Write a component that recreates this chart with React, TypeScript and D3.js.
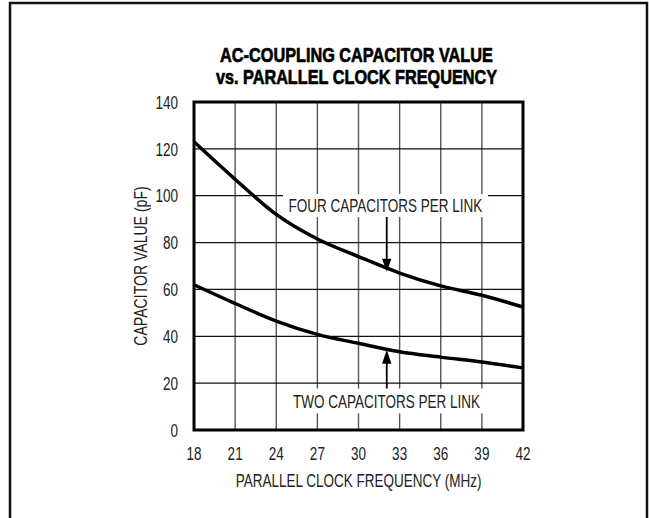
import React from 'react';
import * as d3 from 'd3';

// values
const freqMHz = [18, 21, 24, 27, 30, 33, 36, 39, 42];
const fourCaps = [123, 107, 92, 81.5, 74, 67, 61.5, 57.5, 52.5];
const twoCaps = [62, 54, 46.5, 40.8, 37, 33.4, 31.1, 29, 26.5];
const xTicks = [18, 21, 24, 27, 30, 33, 36, 39, 42];
const yTicks = [0, 20, 40, 60, 80, 100, 120, 140];
const titleLines = ['AC-COUPLING CAPACITOR VALUE', 'vs. PARALLEL CLOCK FREQUENCY'];

const W = 649;
const H = 518;
const margin = { top: 102, right: 126, bottom: 88, left: 194 };
const FONT = '"Liberation Sans", Arial, sans-serif';
const SIZE = 18.5;
const SQUEEZE = 0.73; // condensed look, no condensed font installed

// text squeezed horizontally around its anchor point
const CText = ({ x, y, s = SQUEEZE, rot = 0, anchor = 'middle', size = SIZE, bold = false, children }: any) => (
  <text
    transform={`translate(${x},${y})${rot ? ` rotate(${rot})` : ''} scale(${s},1)`}
    dy="0.36em"
    textAnchor={anchor}
    fontFamily={FONT}
    fontSize={size}
    fontWeight={bold ? 'bold' : 'normal'}
    fill={bold ? '#000' : '#222'}
    stroke={bold ? '#000' : 'none'}
    strokeWidth={bold ? 0.7 : 0}
  >
    {children}
  </text>
);

const App = () => {
  const iw = W - margin.left - margin.right;
  const ih = H - margin.top - margin.bottom;

  const x = d3.scaleLinear().domain([18, 42]).range([0, iw]);
  const y = d3.scaleLinear().domain([0, 140]).range([ih, 0]);

  const line = d3.line<number>()
    .x((d, i) => x(freqMHz[i]))
    .y(d => y(d))
    .curve(d3.curveMonotoneX);

  // label boxes knock out the grid behind them
  const arrowX = x(32.06);
  const fourLabel = { cx: 385.5 - margin.left, cy: y(95.8), w: 205, h: 23 };
  const twoLabel = { cx: 386.5 - margin.left, cy: y(12.4), w: 197, h: 25 };

  return (
    <svg width={W} height={H} style={{ position: 'absolute', left: 0, top: 0, background: '#fff' }}>
      <rect x={10} y={3} width={637} height={H + 20} fill="none" stroke="#111" strokeWidth={2.5} />

      {titleLines.map((t, i) => (
        <CText key={t} x={356.5} y={54 + i * 22.5} size={21} s={0.775} bold>
          {t}
        </CText>
      ))}

      <g transform={`translate(${margin.left},${margin.top})`}>
        {xTicks.slice(1, -1).map(t => (
          <line key={'gx' + t} x1={x(t)} x2={x(t)} y1={0} y2={ih} stroke="#555" strokeWidth={1.4} />
        ))}
        {yTicks.slice(1, -1).map(t => (
          <line key={'gy' + t} x1={0} x2={iw} y1={y(t)} y2={y(t)} stroke="#111" strokeWidth={1.2} />
        ))}

        {[fourLabel, twoLabel].map((b, i) => (
          <rect key={'lb' + i} x={b.cx - b.w / 2} y={b.cy - b.h / 2} width={b.w} height={b.h} fill="#fff" />
        ))}

        <path d={line(fourCaps) || ''} fill="none" stroke="#000" strokeWidth={3.5} />
        <path d={line(twoCaps) || ''} fill="none" stroke="#000" strokeWidth={3.5} />

        <rect x={0} y={0} width={iw} height={ih} fill="none" stroke="#000" strokeWidth={3} />

        {yTicks.map(t => (
          <CText key={'yt' + t} x={-16} y={y(t)} anchor="end">{t}</CText>
        ))}
        {xTicks.map(t => (
          <CText key={'xt' + t} x={x(t)} y={ih + 23}>{t}</CText>
        ))}

        <CText x={iw / 2} y={ih + 50}>PARALLEL CLOCK FREQUENCY (MHz)</CText>
        <CText x={-54} y={ih / 2} rot={-90} s={0.76}>CAPACITOR VALUE (pF)</CText>

        <CText x={fourLabel.cx} y={fourLabel.cy}>FOUR CAPACITORS PER LINK</CText>
        <CText x={twoLabel.cx} y={twoLabel.cy}>TWO CAPACITORS PER LINK</CText>

        {/* arrows */}
        <line x1={arrowX} x2={arrowX} y1={fourLabel.cy + fourLabel.h / 2} y2={y(67.5) - 8} stroke="#000" strokeWidth={1.8} />
        <path d={`M${arrowX - 4.7},${y(67.5) - 13} L${arrowX + 4.7},${y(67.5) - 13} L${arrowX},${y(67.5)} Z`} fill="#000" />
        <line x1={arrowX} x2={arrowX} y1={twoLabel.cy - twoLabel.h / 2} y2={y(34.3) + 8} stroke="#000" strokeWidth={1.8} />
        <path d={`M${arrowX - 4.7},${y(34.3) + 14} L${arrowX + 4.7},${y(34.3) + 14} L${arrowX},${y(34.3)} Z`} fill="#000" />
      </g>
    </svg>
  );
};

export default App;
